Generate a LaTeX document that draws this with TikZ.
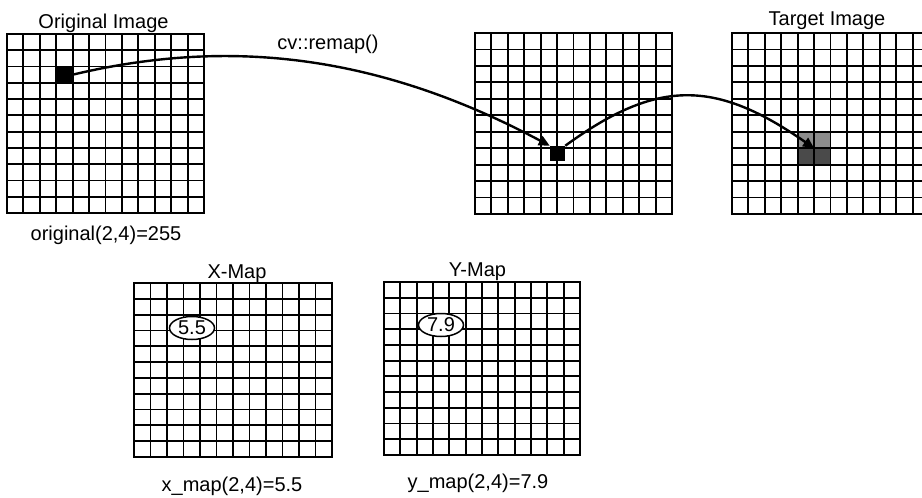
\documentclass[tikz,border=0pt]{standalone}
\usepackage{fontspec}
\setmainfont{Liberation Sans}
\usetikzlibrary{arrows.meta,positioning,calc,shapes.geometric}
\definecolor{blend}{gray}{0.55}
\definecolor{blenddark}{gray}{0.29}
\tikzset{
	gridbox/.style={draw, line width=1.9pt, inner sep=0pt, outer sep=0pt},
	cellline/.style={line width=1.9pt},
	pixel/.style={fill=black, inner sep=0pt, outer sep=0pt},
	caption/.style={font=\fontsize{20}{24}\selectfont, inner sep=0pt, anchor=base},
	value/.style={draw, ellipse, fill=white, line width=1.5pt, inner sep=0pt, minimum width=45pt, minimum height=23pt, font=\fontsize{20}{24}\selectfont},
	warp/.style={-{Triangle[length=11pt,width=10pt]}, line width=2.4pt}
}
% name, left, top, width, height (12 x 11 cells)
\newcommand{\pixgrid}[5]{%
	\node[gridbox, minimum width=#4pt, minimum height=#5pt] (#1) at (#2+#4/2, #3+#5/2) {};
	\foreach \c in {1,...,11} \draw[cellline] (#2+\c*#4/12, #3) -- ++(0,#5);
	\foreach \r in {1,...,10} \draw[cellline] (#2, #3+\r*#5/11) -- ++(#4,0);
}

\begin{document}
\begin{tikzpicture}[x=1pt, y=-1pt]
	\useasboundingbox (0,0) rectangle (922,498);
	\clip (0,0) rectangle (922,498);
	% blended pixels in the target
	\node[pixel, fill=none, minimum width=32.8pt, minimum height=32.9pt] (hot) at (814.1,148.2) {};
	\fill[blend] (hot.north west) rectangle (hot.east);
	\fill[blenddark] (hot.west) rectangle (hot.south east);
	\pixgrid{orig}{7}{34}{197}{179}
	\pixgrid{remapped}{475}{33}{197}{181}
	\pixgrid{target}{732}{33}{197}{181}
	\pixgrid{xmap}{134}{283}{198}{174}
	\pixgrid{ymap}{384}{282}{196}{173}
	\node[pixel, minimum size=16.4pt] (src) at (64.4,74.7) {};
	\node[pixel, minimum size=15.5pt] (mid) at (557.5,153.5) {};
	\node[value] (xval) at (192,328) {5.5};
	\node[value] (yval) at (441,325) {7.9};
	\node[caption] (origtitle) at (103.5,28) {Original Image};
	\node[caption] (targettitle) at (827,25) {Target Image};
	\node[caption] (remapcall) at (328,49) {cv::remap()};
	\node[caption] (origval) at (106,240) {original(2,4)=255};
	\node[caption] (xmaptitle) at (237,278) {X-Map};
	\node[caption] (ymaptitle) at (477.5,276) {Y-Map};
	\node[caption] (xmapval) at (232,491) {x\_map(2,4)=5.5};
	\node[caption] (ymapval) at (478,488) {y\_map(2,4)=7.9};
	\draw[warp] (src.east) .. controls +(147,-35) and +(-180,-96) .. (mid.north west);
	\draw[warp] (mid.north east) .. controls +(92,-67) and +(-99,-69) .. (hot.center);
\end{tikzpicture}
\end{document}
